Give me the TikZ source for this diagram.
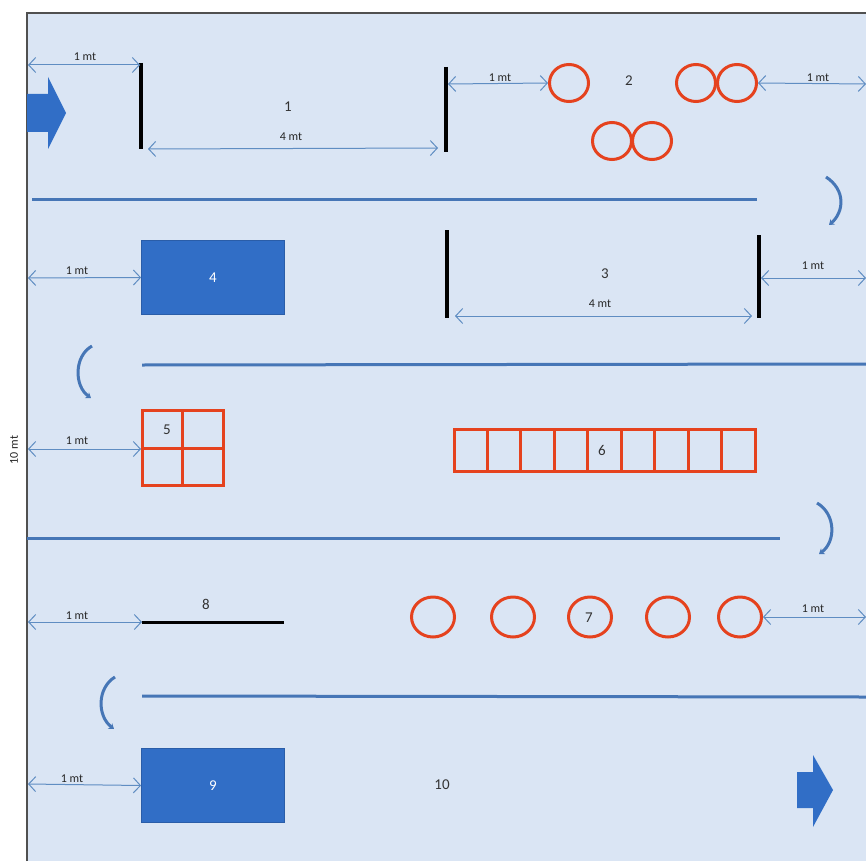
\documentclass[tikz,border=0pt]{standalone}
\usepackage{fontspec}
\setmainfont{Carlito}
\usetikzlibrary{arrows.meta,shapes.geometric}
\definecolor{bg}{HTML}{DAE5F4}
\definecolor{frame}{HTML}{505050}
\definecolor{lane}{HTML}{4676B6}
\definecolor{dimc}{HTML}{5F8DC2}
\definecolor{boxblue}{HTML}{316EC6}
\definecolor{conec}{HTML}{E5421E}
\tikzset{
 dimline/.style={dimc, line width=1pt, {Straight Barb[length=7pt,width=15pt]}-{Straight Barb[length=7pt,width=15pt]}},
 dimlab/.style={font=\fontsize{12}{13}\selectfont, inner sep=1pt, text=black!85},
 numlab/.style={font=\fontsize{15}{16}\selectfont, inner sep=1pt, text=black!80},
 barline/.style={line width=3.5pt, black},
 laneline/.style={lane, line width=3pt},
 turnarrow/.style={lane, line width=3pt, -{Stealth[length=5pt,width=7pt]}},
 conenode/.style={draw=conec, line width=3pt, ellipse, minimum width=39pt, minimum height=37pt, inner sep=0pt},
 gridline/.style={draw=conec, line width=3pt},
 blockbox/.style={fill=boxblue, draw=boxblue!85!black, line width=0.8pt, text=white, font=\fontsize{15}{16}\selectfont, minimum width=143pt, minimum height=74pt, inner sep=0pt},
 bigarrow/.style={fill=boxblue, draw=none}
}
\begin{document}
\begin{tikzpicture}[x=1pt,y=-1pt]
\useasboundingbox (0,0) rectangle (866,861);
\fill[white] (0,0) rectangle (866,861);
\fill[bg] (27,13) rectangle (866,861);
\draw[frame, line width=1.5pt] (27,861) -- (27,13) -- (866,13);
\node[dimlab, rotate=90] (tenmt) at (14,450) {10 mt};

% ---- row 1
\fill[bigarrow] (27,94) -- (48,94) -- (48,77) -- (66,113) -- (48,149) -- (48,132) -- (27,132) -- cycle;
\coordinate (e1) at (28,65);
\coordinate (b1a) at (141,63);
\coordinate (b1b) at (141,149);
\draw[barline] (b1a) -- (b1b);
\coordinate (b1m) at (140,65);
\draw[dimline] (e1) -- (b1m);
\node[dimlab] (l1) at (85,57) {1 mt};
\coordinate (b2a) at (446,67);
\coordinate (b2b) at (446,152);
\draw[barline] (b2a) -- (b2b);
\coordinate (d4a) at (148,149);
\coordinate (d4b) at (438,148);
\draw[dimline] (d4a) -- (d4b);
\node[dimlab] (l4a) at (291,137) {4 mt};
\node[numlab] (n1) at (288,107) {1};
\node[conenode] (c1) at (569,83) {};
\node[conenode] (c2) at (696,83) {};
\node[conenode] (c3) at (737,83) {};
\node[conenode] (c4) at (612,141) {};
\node[conenode] (c5) at (652,141) {};
\node[numlab] (n2) at (629,81) {2};
\draw[dimline] (448,84) -- (c1.west);
\node[dimlab] (l2) at (500,78) {1 mt};
\coordinate (e2) at (866,84);
\draw[dimline] (c3.east) -- (e2);
\node[dimlab] (l3) at (818,78) {1 mt};
\draw[laneline] (32,199) -- (757,199);
\draw[turnarrow] (826,177) .. controls (846,190) and (844,212) .. (829,225);

% ---- row 2
\node[blockbox] (r4) at (213,277.5) {4};
\draw[dimline] (28,278) -- (r4.west);
\node[dimlab] (l5) at (77,271) {1 mt};
\draw[barline] (447,230) -- (447,318);
\draw[barline] (759,235) -- (759,318);
\draw[dimline] (455,316) -- (752,316);
\node[dimlab] (l6) at (600,304) {4 mt};
\node[numlab] (n3) at (605,274) {3};
\draw[dimline] (761,278) -- (866,278);
\node[dimlab] (l7) at (813,266) {1 mt};
\draw[turnarrow] (92,346) .. controls (74,356) and (74,386) .. (91,398);
\draw[laneline] (142,365) -- (866,364);

% ---- row 3
\draw[gridline] (142,410) rectangle (223,485);
\draw[gridline] (182,410) -- (182,485);
\draw[gridline] (142,448) -- (223,448);
\node[numlab] (n5) at (167,430) {5};
\coordinate (g5w) at (141,449);
\draw[dimline] (28,449) -- (g5w);
\node[dimlab] (l8) at (77,441) {1 mt};
\draw[gridline] (454,429) rectangle (755,471);
\foreach \i in {1,...,8} {
  \draw[gridline] ({454+\i*33.44},429) -- ({454+\i*33.44},471);
}
\node[numlab] (n6) at (602,450) {6};
\draw[laneline] (27,538) -- (780,538);
\draw[turnarrow] (817,503) .. controls (836,514) and (836,542) .. (819,554);

% ---- row 4
\coordinate (s8a) at (142,622);
\coordinate (s8b) at (284,622);
\draw[line width=3pt, black] (s8a) -- (s8b);
\node[numlab] (n8) at (206,604) {8};
\draw[dimline] (28,622) -- (s8a);
\node[dimlab] (l9) at (77,616) {1 mt};
\foreach \cx/\nm in {433/k1, 513/k2, 590/k3, 668/k4, 740/k5} {
  \node[conenode, minimum width=43pt, minimum height=40pt] (\nm) at (\cx,617) {};
}
\node[numlab] (n7) at (589,618) {7};
\draw[dimline] (k5.east) -- (866,617);
\node[dimlab] (l10) at (813,609) {1 mt};
\draw[turnarrow] (115,677) .. controls (97,688) and (97,716) .. (114,729);
\draw[laneline] (142,696) -- (866,697);

% ---- row 5
\node[blockbox] (r9) at (213,785.5) {9};
\draw[dimline] (28,784) -- (r9.west);
\node[dimlab] (l11) at (72,779) {1 mt};
\node[numlab] (n10) at (442,785) {10};
\fill[bigarrow] (797,772) -- (813,772) -- (813,755) -- (833,790) -- (813,827) -- (813,808) -- (797,808) -- cycle;
\end{tikzpicture}
\end{document}
